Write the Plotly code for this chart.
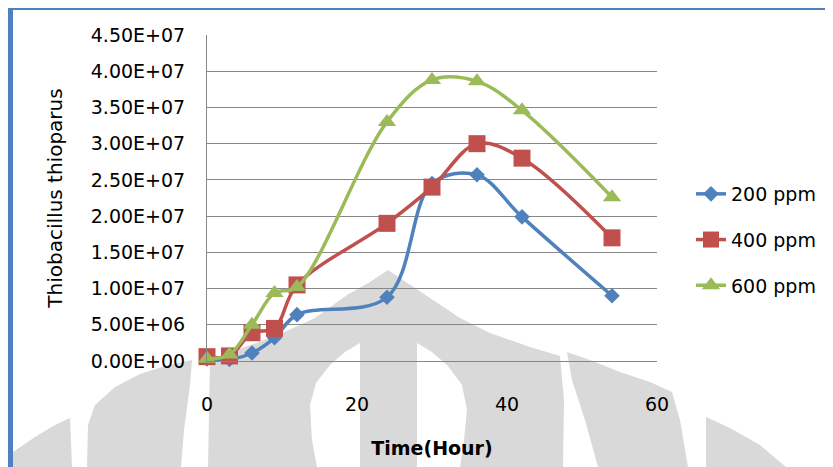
import plotly.graph_objects as go

# ---- data ----
hours = [0, 3, 6, 9, 12, 24, 30, 36, 42, 54]
ppm200 = [0.3e6, 0.2e6, 1.1e6, 3.2e6, 6.4e6, 8.8e6, 2.45e7, 2.57e7, 1.99e7, 9.0e6]
ppm400 = [0.6e6, 0.7e6, 3.9e6, 4.5e6, 1.05e7, 1.9e7, 2.4e7, 3.0e7, 2.8e7, 1.7e7]
ppm600 = [0.3e6, 0.9e6, 5.0e6, 9.4e6, 1.02e7, 3.3e7, 3.88e7, 3.86e7, 3.46e7, 2.26e7]
series_names = ["200 ppm", "400 ppm", "600 ppm"]
y_ticks = [0, 5e6, 1e7, 1.5e7, 2e7, 2.5e7, 3e7, 3.5e7, 4e7, 4.5e7]
x_ticks = [0, 20, 40, 60]

# page has an 8px body margin; figure sized to fit the 833x467 window
OFF = 8
W, H = 833 - OFF, 467 - OFF
ML, MR, MT, MB = 207 - OFF, 176, 35 - OFF, 106
PW, PH = W - ML - MR, H - MT - MB

def P(px, py):
    """page pixel -> paper coords"""
    return (px - OFF - ML) / PW, (H - MB - (py - OFF)) / PH

def path(points):
    pts = [P(x, y) for x, y in points]
    s = "M %.4f,%.4f " % pts[0]
    for p in pts[1:]:
        s += "L %.4f,%.4f " % p
    return s + "Z"

FONT = "DejaVu Sans"
colors = ["#4F81BD", "#C0504D", "#9BBB59"]
symbols = ["diamond", "square", "triangle-up"]
sizes = [12, 17, 16]

fig = go.Figure()
for i, ys in enumerate([ppm200, ppm400, ppm600]):
    fig.add_trace(go.Scatter(
        x=hours, y=ys, name=series_names[i], mode="lines+markers",
        line=dict(color=colors[i], width=3.5, shape="spline", smoothing=1),
        marker=dict(symbol=symbols[i], size=sizes[i], color=colors[i]),
        cliponaxis=False, legendgroup=str(i)))

grey = "#d9d9d9"
wm = [
    [(13, 467), (13, 452), (35, 437), (55, 425), (70, 418), (72, 467)],
    [(87, 467), (88, 425), (95, 405), (115, 387), (140, 374), (165, 366), (192, 360), (190, 385), (184, 430), (181, 467)],
    [(208, 467), (210, 360), (245, 347), (280, 334), (315, 318), (347, 295), (370, 282), (388, 270),
     (406, 282), (430, 298), (460, 318), (490, 333), (530, 347), (560, 356), (564, 400), (563, 467)],
    [(567, 352), (590, 360), (620, 372), (650, 382), (672, 392), (680, 420), (688, 467), (598, 467), (585, 420), (572, 380)],
    [(706, 417), (730, 428), (760, 445), (786, 467), (706, 467)],
]
slits = [
    [(360, 343), (345, 352), (330, 365), (316, 383), (310, 405), (312, 440), (317, 467), (360, 467)],
    [(417, 343), (432, 352), (448, 366), (462, 385), (467, 410), (464, 440), (460, 467), (417, 467)],
]
shapes = []
for pts in wm:
    shapes.append(dict(type="path", xref="paper", yref="paper", path=path(pts),
                       fillcolor=grey, line=dict(width=0), layer="below"))
for pts in slits:
    shapes.append(dict(type="path", xref="paper", yref="paper", path=path(pts),
                       fillcolor="white", line=dict(width=0), layer="below"))
bx0, by0 = P(10.5, 7.5)
bx1, by1 = P(850, 490)
shapes.append(dict(type="rect", xref="paper", yref="paper", x0=bx0, y0=by0, x1=bx1, y1=by1,
                   line=dict(color="#4F81BD", width=5), fillcolor="rgba(0,0,0,0)", layer="above"))

fig.update_layout(
    width=W, height=H, margin=dict(l=ML, r=MR, t=MT, b=MB),
    paper_bgcolor="white", plot_bgcolor="rgba(0,0,0,0)",
    font=dict(family=FONT, size=19, color="#000000"),
    shapes=shapes,
    legend=dict(x=P(691, 0)[0], y=P(0, 175)[1], xanchor="left", yanchor="top",
                font=dict(size=19), tracegroupgap=18, bgcolor="rgba(0,0,0,0)"),
    xaxis=dict(range=[0, 60], tickvals=x_ticks, ticktext=[str(v) for v in x_ticks],
               showgrid=False, zeroline=False, showline=True, linecolor="#868686", linewidth=1,
               ticks="", ticklabelstandoff=26, automargin=False,
               title=dict(text="<b>Time(Hour)</b>", standoff=27, font=dict(size=19))),
    yaxis=dict(range=[0, 4.5e7], tickvals=y_ticks, ticktext=["%.2E" % v for v in y_ticks],
               showgrid=True, gridcolor="#868686", gridwidth=1, zeroline=False,
               showline=True, linecolor="#868686", linewidth=1, ticks="",
               ticklabelstandoff=17, automargin=False,
               title=dict(text="Thiobacillus thioparus", standoff=22, font=dict(size=20))),
)

fig.write_html("out.html")
